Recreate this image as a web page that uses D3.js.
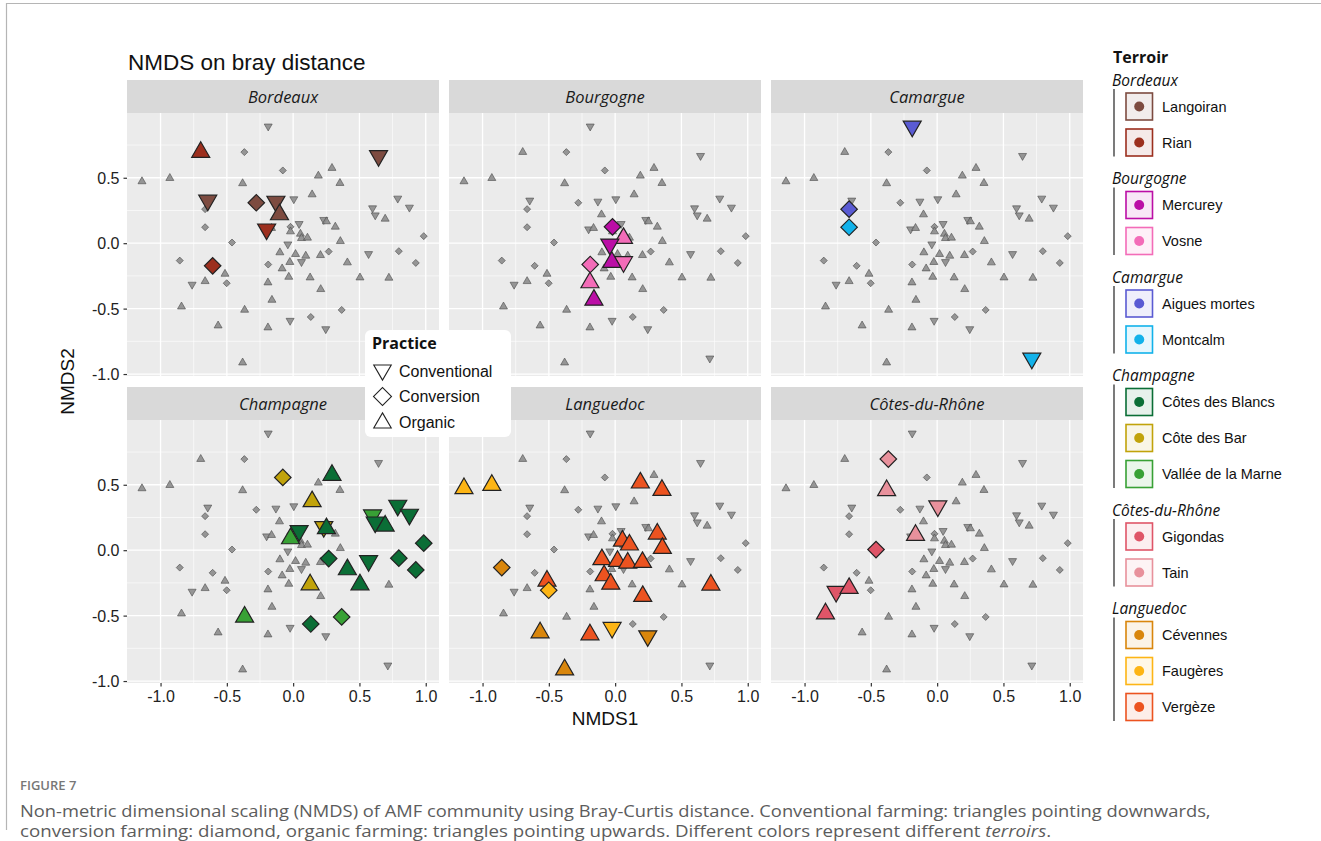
<!DOCTYPE html>
<html>
<head>
<meta charset="utf-8">
<script src="https://cdn.jsdelivr.net/npm/d3@7"></script>
<style>
  body { margin: 0; background: #fff; }
</style>
</head>
<body>
<svg id="fig" width="1321" height="841" font-family="'Liberation Sans', Arial, sans-serif"></svg>
<script>
// ---- facet / legend categories ----
const facetOrder = ["Bordeaux", "Bourgogne", "Camargue", "Champagne", "Languedoc", "Côtes-du-Rhône"];
const legendGroups = ["Bordeaux", "Bourgogne", "Camargue", "Champagne", "Côtes-du-Rhône", "Languedoc"];
const siteNames = ["Langoiran", "Rian", "Mercurey", "Vosne", "Aigues mortes", "Montcalm",
  "Côtes des Blancs", "Côte des Bar", "Vallée de la Marne", "Gigondas", "Tain",
  "Cévennes", "Faugères", "Vergèze"];
const siteTerroir = ["Bordeaux", "Bordeaux", "Bourgogne", "Bourgogne", "Camargue", "Camargue",
  "Champagne", "Champagne", "Champagne", "Côtes-du-Rhône", "Côtes-du-Rhône",
  "Languedoc", "Languedoc", "Languedoc"];
const siteColors = ["#7d4b40", "#9c2f1e", "#bb0ea6", "#f36cb8", "#5a5bd3", "#12b2ea",
  "#0b6e36", "#c1a30b", "#38a135", "#df5568", "#e8919c",
  "#d9860c", "#fdb515", "#ec5320"];
const practiceNames = ["Conventional", "Conversion", "Organic"];
const xTicks = [-1.0, -0.5, 0.0, 0.5, 1.0];
const yTicks = [-1.0, -0.5, 0.0, 0.5];

// ---- NMDS scores per sample ----
const nmds1 = [-0.188, -0.697, -0.368, 0.644, -0.078, 0.293, 0.190, -1.140, -0.930, -0.381,
  0.353, 0.143, -0.644, -0.278, -0.130, 0.005, 0.789, 0.877, 0.599, 0.619,
  0.694, -0.664, -0.103, -0.664, -0.200, -0.163, 0.045, -0.020, -0.020, 0.055,
  0.063, 0.108, 0.231, 0.251, 0.318, 0.356, 0.985, -0.461, -0.040, -0.100,
  0.018, 0.095, 0.063, 0.206, 0.268, 0.569, 0.797, 0.925, 0.409, -0.855,
  -0.607, -0.188, -0.025, -0.083, -0.514, -0.033, 0.128, 0.504, 0.722, -0.762,
  -0.664, -0.501, -0.190, 0.208, -0.160, -0.842, -0.366, 0.366, 0.133, -0.023,
  -0.566, -0.190, 0.246, 0.714, -0.381];
const nmds2 = [0.893, 0.696, 0.696, 0.668, 0.556, 0.574, 0.515, 0.472, 0.497, 0.457,
  0.459, 0.372, 0.327, 0.309, 0.319, 0.337, 0.342, 0.273, 0.268, 0.214,
  0.186, 0.260, 0.219, 0.122, 0.107, 0.115, 0.148, 0.125, 0.089, 0.071,
  0.038, 0.041, 0.179, 0.166, 0.125, 0.015, 0.054, 0.005, -0.008, -0.071,
  -0.084, -0.097, -0.143, -0.092, -0.064, -0.082, -0.061, -0.151, -0.148, -0.133,
  -0.173, -0.163, -0.145, -0.194, -0.235, -0.258, -0.263, -0.263, -0.265, -0.316,
  -0.291, -0.306, -0.301, -0.352, -0.434, -0.485, -0.510, -0.510, -0.564, -0.592,
  -0.630, -0.645, -0.656, -0.880, -0.913];
// practice index: 0 Conventional, 1 Conversion, 2 Organic
const samplePractice = [0, 2, 1, 0, 1, 2, 2, 2, 2, 2,
  2, 2, 0, 1, 0, 0, 0, 0, 0, 0,
  2, 1, 2, 1, 0, 2, 0, 1, 2, 2,
  2, 2, 0, 2, 2, 2, 1, 1, 0, 2,
  2, 2, 0, 2, 1, 0, 1, 1, 2, 1,
  1, 1, 2, 2, 2, 2, 2, 2, 2, 0,
  2, 1, 2, 2, 2, 2, 2, 1, 1, 0,
  2, 2, 0, 0, 2];
// site name per sample
const sampleSite = ["Aigues mortes", "Rian", "Tain", "Langoiran", "Côte des Bar", "Côtes des Blancs", "Vergèze", "Faugères", "Faugères", "Tain",
  "Vergèze", "Côte des Bar", "Langoiran", "Langoiran", "Langoiran", "Tain", "Côtes des Blancs", "Côtes des Blancs", "Vallée de la Marne", "Côtes des Blancs",
  "Côtes des Blancs", "Aigues mortes", "Langoiran", "Montcalm", "Rian", "Tain", "Côtes des Blancs", "Mercurey", "Vallée de la Marne", "Vergèze",
  "Vosne", "Vergèze", "Côte des Bar", "Côtes des Blancs", "Vergèze", "Vergèze", "Côtes des Blancs", "Gigondas", "Mercurey", "Vergèze",
  "Vergèze", "Vergèze", "Vosne", "Vergèze", "Côtes des Blancs", "Côtes des Blancs", "Côtes des Blancs", "Côtes des Blancs", "Côtes des Blancs", "Cévennes",
  "Rian", "Vosne", "Mercurey", "Vergèze", "Vergèze", "Vergèze", "Côte des Bar", "Côtes des Blancs", "Vergèze", "Gigondas",
  "Gigondas", "Faugères", "Vosne", "Vergèze", "Mercurey", "Gigondas", "Vallée de la Marne", "Vallée de la Marne", "Côtes des Blancs", "Faugères",
  "Cévennes", "Vergèze", "Cévennes", "Montcalm", "Cévennes"];

// ---- assemble sample records ----
const samples = nmds1.map((x, i) => {
  const si = siteNames.indexOf(sampleSite[i]);
  return { x, y: nmds2[i], practice: samplePractice[i], site: sampleSite[i], terroir: siteTerroir[si] };
});
const color = d3.scaleOrdinal().domain(siteNames).range(siteColors);

const sansFont = "'Liberation Sans', Arial, sans-serif";
const openFont = "'Open Sans', 'Noto Sans', sans-serif";

// ---- layout ----
const svg = d3.select("#fig");
const panelW = 312, panelH = 263, stripH = 33;
const colLeft = [127, 449, 771];
const rowStripTop = [80, 387];
const x = d3.scaleLinear().domain([-1.253, 1.1]).range([0, panelW]);
const y = d3.scaleLinear().domain([-1.015, 0.995]).range([panelH, 0]);
const tickFmt = d => d.toFixed(1);

// symbol per practice: down triangle, diamond, up triangle
function symbolPath(practice, w) {
  if (practice === 1) {
    return d3.symbol().type(d3.symbolSquare).size(w * w / 2)();
  }
  return d3.symbol().type(d3.symbolTriangle).size(Math.sqrt(3) / 4 * w * w)();
}
function symbolTransform(practice, px, py) {
  if (practice === 0) return `translate(${px},${py}) rotate(180)`;
  if (practice === 1) return `translate(${px},${py}) rotate(45)`;
  return `translate(${px},${py})`;
}
function symbolWidth(practice, big) {
  if (big) return practice === 1 ? 16.5 : 18;
  return practice === 1 ? 7 : 8;
}

// ---- frame ----
svg.append("line").attr("x1", 6).attr("x2", 1321).attr("y1", 3.5).attr("y2", 3.5)
  .attr("stroke", "#b5b5b5").attr("stroke-width", 1.2);
svg.append("line").attr("x1", 6.5).attr("x2", 6.5).attr("y1", 3).attr("y2", 830)
  .attr("stroke", "#b5b5b5").attr("stroke-width", 1.2);

// ---- title ----
svg.append("text").attr("x", 128).attr("y", 70).attr("font-size", 22.5).attr("fill", "#111")
  .attr("font-family", sansFont).text("NMDS on bray distance");

// ---- panels ----
facetOrder.forEach((terroir, k) => {
  const col = k % 3, row = Math.floor(k / 3);
  const left = colLeft[col], stripTop = rowStripTop[row], top = stripTop + stripH;
  const g = svg.append("g");

  g.append("rect").attr("x", left).attr("y", stripTop).attr("width", panelW).attr("height", stripH)
    .attr("fill", "#d9d9d9");
  g.append("text").attr("x", left + panelW / 2).attr("y", stripTop + stripH / 2 + 6)
    .attr("text-anchor", "middle").attr("font-size", 16.5).attr("font-style", "italic")
    .attr("font-family", openFont).attr("fill", "#1a1a1a")
    .text(terroir);

  const p = g.append("g").attr("transform", `translate(${left},${top})`);
  p.append("rect").attr("width", panelW).attr("height", panelH).attr("fill", "#ebebeb");

  const minorX = [-0.75, -0.25, 0.25, 0.75];
  const minorY = [-0.75, -0.25, 0.25, 0.75];
  p.selectAll(".mx").data(minorX).join("line")
    .attr("x1", d => x(d)).attr("x2", d => x(d)).attr("y1", 0).attr("y2", panelH)
    .attr("stroke", "#fff").attr("stroke-width", 0.6);
  p.selectAll(".my").data(minorY).join("line")
    .attr("y1", d => y(d)).attr("y2", d => y(d)).attr("x1", 0).attr("x2", panelW)
    .attr("stroke", "#fff").attr("stroke-width", 0.6);
  p.selectAll(".gx").data(xTicks).join("line")
    .attr("x1", d => x(d)).attr("x2", d => x(d)).attr("y1", 0).attr("y2", panelH)
    .attr("stroke", "#fff").attr("stroke-width", 1.3);
  p.selectAll(".gy").data(yTicks).join("line")
    .attr("y1", d => y(d)).attr("y2", d => y(d)).attr("x1", 0).attr("x2", panelW)
    .attr("stroke", "#fff").attr("stroke-width", 1.3);

  // every sample in grey
  p.selectAll(".bg").data(samples).join("path")
    .attr("d", d => symbolPath(d.practice, symbolWidth(d.practice, false)))
    .attr("transform", d => symbolTransform(d.practice, x(d.x), y(d.y)))
    .attr("fill", "#8c8c8c").attr("fill-opacity", 0.9)
    .attr("stroke", "#4a4a4a").attr("stroke-opacity", 0.75).attr("stroke-width", 0.8);

  // samples of this terroir, coloured by site
  p.selectAll(".fg").data(samples.filter(d => d.terroir === terroir)).join("path")
    .attr("d", d => symbolPath(d.practice, symbolWidth(d.practice, true)))
    .attr("transform", d => symbolTransform(d.practice, x(d.x), y(d.y)))
    .attr("fill", d => color(d.site))
    .attr("stroke", "#222").attr("stroke-width", 1.2).attr("stroke-linejoin", "miter");

  // axes on outer panels
  if (col === 0) {
    const ay = p.append("g").call(d3.axisLeft(y).tickValues(yTicks).tickFormat(tickFmt)
      .tickSize(3.5).tickPadding(4));
    ay.select(".domain").remove();
    ay.selectAll("line").attr("stroke", "#333").attr("stroke-width", 1.2);
    ay.selectAll("text").attr("font-size", 16).attr("fill", "#222")
      .attr("font-family", sansFont).attr("dy", "0.36em");
  }
  if (row === 1) {
    const ax = p.append("g").attr("transform", `translate(0,${panelH})`)
      .call(d3.axisBottom(x).tickValues(xTicks).tickFormat(tickFmt).tickSize(3.5).tickPadding(4));
    ax.select(".domain").remove();
    ax.selectAll("line").attr("stroke", "#333").attr("stroke-width", 1.2);
    ax.selectAll("text").attr("font-size", 16).attr("fill", "#222")
      .attr("font-family", sansFont);
  }
});

// ---- axis titles ----
svg.append("text").attr("x", (colLeft[0] + colLeft[2] + panelW) / 2).attr("y", 725)
  .attr("text-anchor", "middle").attr("font-size", 19).attr("fill", "#111")
  .attr("font-family", sansFont).text("NMDS1");
svg.append("text").attr("transform", `translate(74,${(rowStripTop[0] + rowStripTop[1] + stripH + panelH) / 2}) rotate(-90)`)
  .attr("text-anchor", "middle").attr("font-size", 19).attr("fill", "#111")
  .attr("font-family", sansFont).text("NMDS2");

// ---- practice legend (inside) ----
const pl = svg.append("g");
pl.append("rect").attr("x", 365).attr("y", 330).attr("width", 146).attr("height", 107)
  .attr("rx", 6).attr("fill", "#fff");
pl.append("text").attr("x", 372).attr("y", 349).attr("font-size", 16).attr("font-weight", "bold")
  .attr("font-family", openFont).attr("fill", "#111").text("Practice");
practiceNames.forEach((name, i) => {
  const cy = 371 + i * 25.5;
  const w = i === 1 ? 18 : 17.5;
  pl.append("path").attr("d", symbolPath(i, w))
    .attr("transform", symbolTransform(i, 382.5, i === 1 ? cy : (i === 0 ? cy - 1 : cy + 1)))
    .attr("fill", "none").attr("stroke", "#222").attr("stroke-width", 1.1);
  pl.append("text").attr("x", 399).attr("y", cy + 5.5).attr("font-size", 16).attr("fill", "#111")
    .attr("font-family", sansFont).text(name);
});

// ---- terroir legend ----
const tl = svg.append("g");
tl.append("text").attr("x", 1113).attr("y", 63).attr("font-size", 16).attr("font-weight", "bold")
  .attr("font-family", openFont).attr("fill", "#111").text("Terroir");
let gy = 80;
legendGroups.forEach(group => {
  const members = siteNames.filter((s, i) => siteTerroir[i] === group);
  tl.append("text").attr("x", 1112).attr("y", gy + 5.5).attr("font-size", 15.5).attr("font-style", "italic")
    .attr("font-family", openFont).attr("fill", "#111").text(group);
  const first = gy + 26.5;
  const last = first + 36 * (members.length - 1);
  tl.append("line").attr("x1", 1114).attr("x2", 1114).attr("y1", gy + 9).attr("y2", last + 14)
    .attr("stroke", "#333").attr("stroke-width", 1.3);
  members.forEach((s, j) => {
    const cy = first + 36 * j;
    const c = color(s);
    tl.append("rect").attr("x", 1126).attr("y", cy - 13.5).attr("width", 26.5).attr("height", 27)
      .attr("fill", d3.interpolateRgb("#fff", c)(0.1)).attr("stroke", c).attr("stroke-width", 1.6);
    tl.append("circle").attr("cx", 1139.2).attr("cy", cy).attr("r", 5).attr("fill", c);
    tl.append("text").attr("x", 1162).attr("y", cy + 5).attr("font-size", 14.5).attr("fill", "#111")
      .attr("font-family", sansFont).text(s);
  });
  gy = last + 36;
});

// ---- caption ----
svg.append("text").attr("x", 20).attr("y", 790).attr("font-size", 13).attr("font-weight", 600)
  .attr("font-family", openFont).attr("fill", "#777").text("FIGURE 7");
function fitWidth(sel, target) {
  const w = sel.node().getComputedTextLength();
  const x0 = +sel.attr("x"), y0 = +sel.attr("y");
  sel.attr("x", 0).attr("y", 0).attr("transform", `translate(${x0},${y0}) scale(${target / w},1)`);
}
const cap1 = svg.append("text").attr("x", 20).attr("y", 817).attr("font-size", 16)
  .attr("font-family", openFont).attr("fill", "#5c5c5c")
  .text("Non-metric dimensional scaling (NMDS) of AMF community using Bray-Curtis distance. Conventional farming: triangles pointing downwards,");
fitWidth(cap1, 1192);
const cap2 = svg.append("text").attr("x", 20).attr("y", 837).attr("font-size", 16)
  .attr("font-family", openFont).attr("fill", "#5c5c5c");
cap2.append("tspan").text("conversion farming: diamond, organic farming: triangles pointing upwards. Different colors represent different ");
cap2.append("tspan").attr("font-style", "italic").text("terroirs");
cap2.append("tspan").text(".");
fitWidth(cap2, 1032);
</script>
</body>
</html>
